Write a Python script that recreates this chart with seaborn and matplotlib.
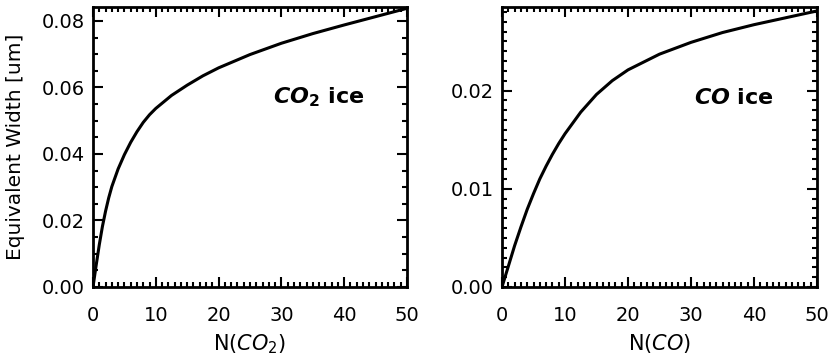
import matplotlib
matplotlib.use("Agg")
import matplotlib.pyplot as plt
import seaborn as sns
import pandas as pd
from matplotlib.ticker import MultipleLocator

# courbe CO2 : N(CO2) -> largeur equivalente [um]
n_co2 = [0, 0.5, 1, 1.5, 2, 2.5, 3, 4, 5, 6, 7, 8, 9, 10, 12.5, 15, 17.5,
         20, 25, 30, 35, 40, 45, 50]
ew_co2 = [0.0, 0.0065, 0.0127, 0.0182, 0.0228, 0.0268, 0.0302, 0.0355,
          0.0398, 0.0435, 0.0467, 0.0495, 0.0518, 0.0537, 0.0576, 0.0607,
          0.0635, 0.0659, 0.0699, 0.0733, 0.0762, 0.0788, 0.0813, 0.0838]

# courbe CO : N(CO) -> largeur equivalente [um]
n_co = [0, 1, 2, 3, 4, 5, 6, 7, 8, 9, 10, 12.5, 15, 17.5, 20, 25, 30, 35,
        40, 45, 50]
ew_co = [0.0, 0.0021, 0.0042, 0.0061, 0.0079, 0.0095, 0.0110, 0.0123,
         0.0135, 0.0146, 0.0156, 0.0178, 0.0196, 0.0210, 0.0221, 0.0237,
         0.0249, 0.0259, 0.0267, 0.0274, 0.0281]

sns.set_theme(style="ticks")
plt.rcParams["font.family"] = ["DejaVu Sans"]
plt.rcParams["mathtext.fontset"] = "dejavusans"
for k in ["text.color", "axes.labelcolor", "xtick.color", "ytick.color"]:
    plt.rcParams[k] = "black"

fig = plt.figure(figsize=(8.33, 3.61), dpi=100)
ax1 = fig.add_axes([93 / 833, 1 - 287 / 361, 314 / 833, 280 / 361])
ax2 = fig.add_axes([502 / 833, 1 - 287 / 361, 315 / 833, 280 / 361])

df1 = pd.DataFrame({"N": n_co2, "EW": ew_co2})
df2 = pd.DataFrame({"N": n_co, "EW": ew_co})
sns.lineplot(data=df1, x="N", y="EW", ax=ax1, color="black", lw=2.2)
sns.lineplot(data=df2, x="N", y="EW", ax=ax2, color="black", lw=2.2)


def style_axes(ax, ylim, ymaj, ymin):
    ax.set_xlim(0, 50)
    ax.set_ylim(*ylim)
    ax.xaxis.set_major_locator(MultipleLocator(10))
    ax.xaxis.set_minor_locator(MultipleLocator(1))
    ax.yaxis.set_major_locator(MultipleLocator(ymaj))
    ax.yaxis.set_minor_locator(MultipleLocator(ymin))
    ax.tick_params(which="both", direction="in", top=True, right=True,
                   color="black", labelsize=14, width=1.5)
    ax.tick_params(axis="x", which="major", pad=14)
    ax.tick_params(axis="y", which="major", pad=6)
    ax.tick_params(which="major", length=7)
    ax.tick_params(which="minor", length=3.5)
    for s in ax.spines.values():
        s.set_linewidth(2)
        s.set_color("black")


style_axes(ax1, (0, 0.0842), 0.02, 0.005)
style_axes(ax2, (0, 0.0285), 0.01, 0.001)
ax1.yaxis.set_major_formatter(lambda v, p: f"{v:.2f}")
ax2.yaxis.set_major_formatter(lambda v, p: f"{v:.2f}")

ax1.set_xlabel(r"N($\it{CO}_2$)", fontsize=15, labelpad=5)
ax2.set_xlabel(r"N($\it{CO}$)", fontsize=15, labelpad=5)
ax1.set_ylabel("Equivalent Width [um]", fontsize=14.5, labelpad=12)
ax2.set_ylabel("")

ax1.text(36, 0.057, r"$\boldsymbol{CO}_\mathbf{2}$ ice", fontsize=16,
         fontweight="bold", ha="center", va="center")
ax2.text(36.8, 0.0192, r"$\boldsymbol{CO}$ ice", fontsize=16,
         fontweight="bold", ha="center", va="center")

fig.savefig("out.png", dpi=100)
